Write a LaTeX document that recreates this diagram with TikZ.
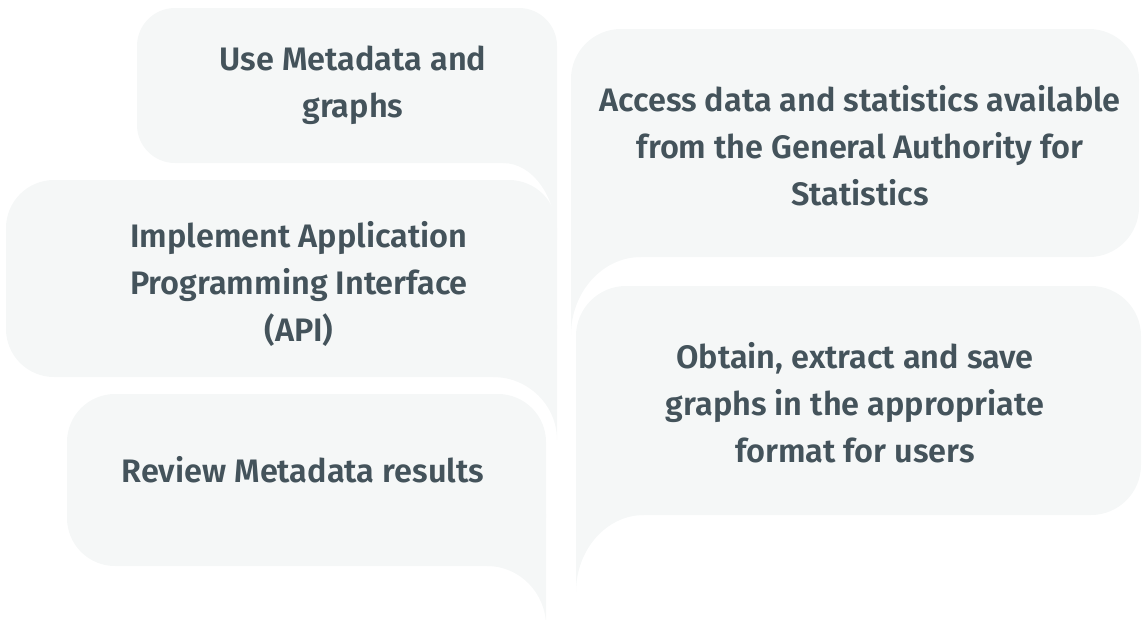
\documentclass[tikz,border=0pt]{standalone}
\usepackage{fontspec}
\setmainfont{Fira Sans}[UprightFont=* SemiBold, BoldFont=* Bold]
\definecolor{bub}{HTML}{F5F7F7}
\definecolor{txtc}{HTML}{44535B}
\tikzset{
  bubble/.style={fill=bub},
  label/.style={text=txtc, align=center, font=\fontsize{32.5}{47}\selectfont, inner sep=0pt}
}
\begin{document}
\begin{tikzpicture}[x=1pt,y=-1pt]
\useasboundingbox (0,0) rectangle (1145,619);
% Box 1: Use Metadata and graphs
\fill[bubble, rounded corners=38pt] (137,8) rectangle (557,163);
\fill[bubble] (503,125) -- (503,163) .. controls (533,163) and (557,197.5) .. (557,240) -- (557,125) -- cycle;
% Box 2: API
\fill[bubble, rounded corners=48pt] (6,180) rectangle (557,377);
\fill[bubble] (493,325) -- (493,377) .. controls (528.3,377) and (557,405.2) .. (557,440) -- (557,325) -- cycle;
% Box 3: Review
\fill[bubble, rounded corners=48pt] (67,394) rectangle (546,566);
\fill[bubble] (487,514) -- (487,566) .. controls (519.6,566) and (546,593) .. (546,626) -- (546,514) -- cycle;
% Box 4: Access
\fill[bubble, rounded corners=50pt] (571,29) rectangle (1139,257);
\fill[bubble] (641,205) -- (641,257) .. controls (602.4,257) and (571,292) .. (571,335) -- (571,205) -- cycle;
% Box 5: Obtain
\fill[bubble, rounded corners=50pt] (576,286) rectangle (1141,515);
\fill[bubble] (644,460) -- (644,515) .. controls (606.5,515) and (576,549.5) .. (576,592) -- (576,460) -- cycle;
% Texts
\node[label] (t1) at (353,85) {Use Metadata and\\graphs};
\node[label] (t2) at (299,284) {Implement Application\\Programming Interface\\(API)};
\node[label] (t3) at (303,470) {Review Metadata results};
\node[label] (t4) at (860,146) {Access data and statistics available\\from the General Authority for\\Statistics};
\node[label] (t5) at (855,403) {Obtain, extract and save\\graphs in the appropriate\\format for users};
\end{tikzpicture}
\end{document}
